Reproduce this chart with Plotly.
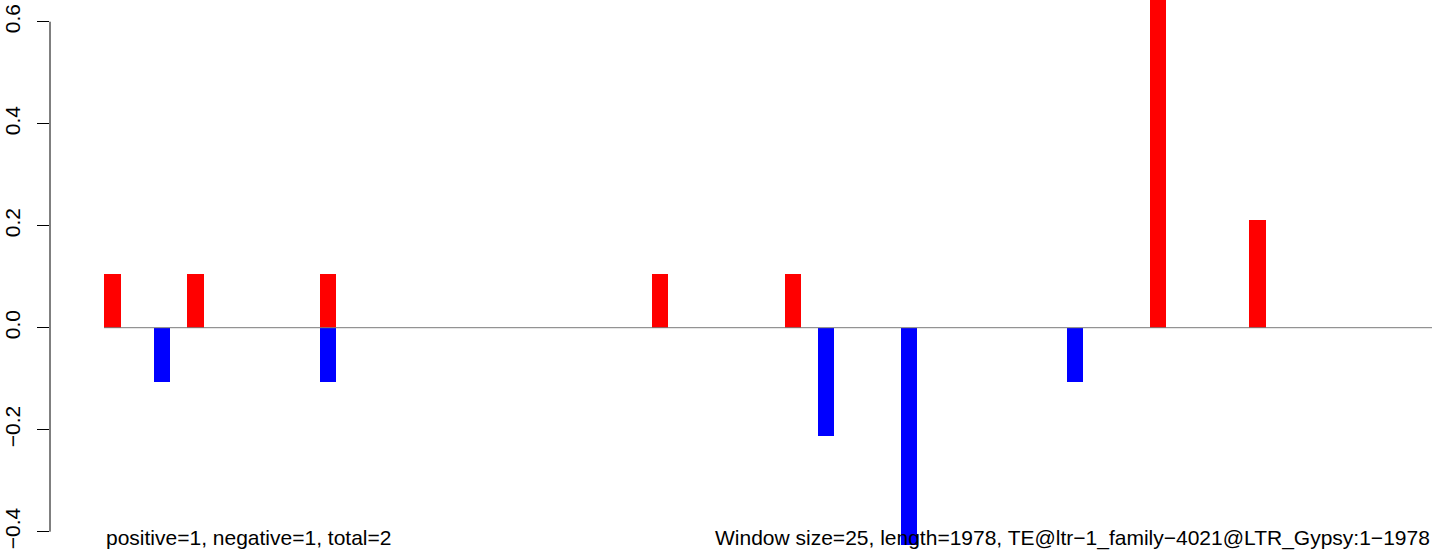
import plotly.graph_objects as go

# 80 windows of 25 bp (length 1978)
n_windows = 80
pos_idx = [0, 5, 13, 33, 41, 63, 69]
pos_vals = [0.1053, 0.1053, 0.1053, 0.1053, 0.1053, 0.7368, 0.2105]
neg_idx = [3, 13, 43, 48, 58]
neg_vals = [-0.1065, -0.1065, -0.213, -0.426, -0.1065]
ytick_vals = [-0.4, -0.2, 0.0, 0.2, 0.4, 0.6]
ytick_text = ["\u22120.4", "\u22120.2", "0.0", "0.2", "0.4", "0.6"]
left_label = "positive=1, negative=1, total=2"
right_label = "Window size=25, length=1978, TE@ltr\u22121_family\u22124021@LTR_Gypsy:1\u22121978"

W, H = 1444, 557
ml, mr = 50, 10
slot_px = 16.6
bar0_px = 104
zero_px = 327.7
unit_px = 510.0
FONT = "Liberation Sans, Arial, Helvetica"

x_lo = -(bar0_px - ml) / slot_px
x_hi = x_lo + (W - ml - mr) / slot_px
y_hi = zero_px / unit_px
y_lo = -(H - zero_px) / unit_px

fig = go.Figure()
fig.add_trace(go.Bar(x=[i + 0.5 for i in pos_idx], y=pos_vals, width=1.0,
                     marker=dict(color="#FF0000", line=dict(width=0)), showlegend=False))
fig.add_trace(go.Bar(x=[i + 0.5 for i in neg_idx], y=neg_vals, width=1.0,
                     marker=dict(color="#0000FF", line=dict(width=0)), showlegend=False))

# zero line across all windows
fig.add_shape(type="line", xref="x", yref="y", x0=0, x1=n_windows, y0=0, y1=0,
              line=dict(color="#7a7a7a", width=1), layer="above")
# y axis line spanning tick range only (R style)
fig.add_shape(type="line", xref="paper", yref="y", x0=0, x1=0,
              y0=min(ytick_vals), y1=max(ytick_vals),
              line=dict(color="black", width=1))

fig.add_annotation(x=0, y=-0.412, xref="x", yref="y", text=left_label,
                   showarrow=False, xanchor="left", yanchor="middle",
                   font=dict(family=FONT, size=21, color="black"))
fig.add_annotation(x=n_windows, y=-0.412, xref="x", yref="y", text=right_label,
                   showarrow=False, xanchor="right", yanchor="middle",
                   font=dict(family=FONT, size=21, color="black"))

fig.update_layout(
    width=W, height=H,
    margin=dict(l=ml, r=mr, t=0, b=0, pad=0),
    plot_bgcolor="white", paper_bgcolor="white",
    barmode="overlay", bargap=0,
    xaxis=dict(range=[x_lo, x_hi], visible=False, showgrid=False, zeroline=False),
    yaxis=dict(range=[y_lo, y_hi], tickvals=ytick_vals, ticktext=ytick_text,
               ticks="outside", ticklen=12, tickwidth=1, tickcolor="black",
               tickangle=-90, showgrid=False, zeroline=False, showline=False,
               ticklabelstandoff=9,
               tickfont=dict(family=FONT, size=21, color="black")),
    font=dict(family=FONT, size=21, color="black"),
)

fig.write_html("out.html", config={"displayModeBar": False},
               post_script="document.body.style.margin='0px';")
